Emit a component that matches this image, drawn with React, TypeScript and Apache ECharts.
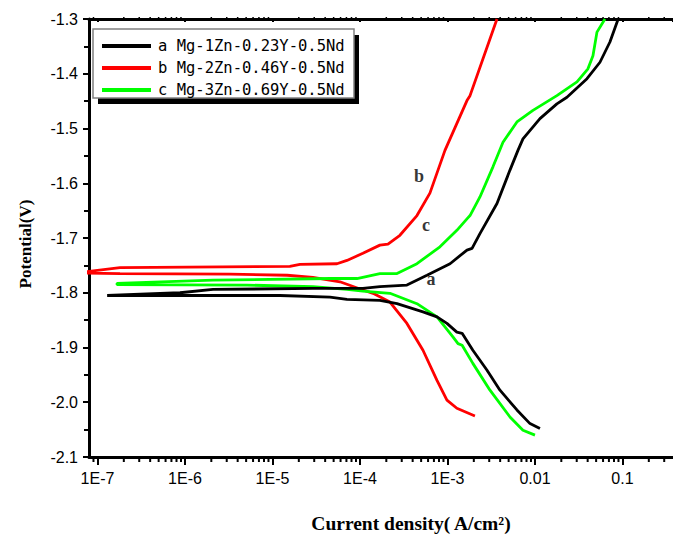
import React, { useEffect, useRef } from "react";
import * as echarts from "echarts";

// Curve a: Mg-1Zn-0.23Y-0.5Nd (black) — cathodic branch (high i -> Ecorr) then anodic branch
const aCathodic: [number, number][] = [
  [1.14e-2, -2.048], [8.77e-3, -2.039], [6.22e-3, -2.014], [3.98e-3, -1.978], [2.82e-3, -1.941],
  [1.95e-3, -1.905], [1.47e-3, -1.874], [1.28e-3, -1.872], [9.86e-4, -1.856], [7.59e-4, -1.844],
  [5.25e-4, -1.835], [2.65e-4, -1.82], [1.69e-4, -1.814], [7.1e-5, -1.812], [4.54e-5, -1.808],
  [1.22e-5, -1.805], [1.29e-7, -1.805],
];
const aAnodic: [number, number][] = [
  [8.77e-7, -1.8], [2.09e-6, -1.794], [2.9e-5, -1.792], [1.08e-4, -1.792], [1.69e-4, -1.789],
  [3.44e-4, -1.786], [5.83e-4, -1.768], [1.07e-3, -1.747], [1.67e-3, -1.722], [1.91e-3, -1.719],
  [2.35e-3, -1.692], [3.68e-3, -1.637], [5.18e-3, -1.576], [6.39e-3, -1.54], [7.29e-3, -1.519],
  [1.14e-2, -1.482], [1.78e-2, -1.455], [2.32e-2, -1.443], [3.93e-2, -1.409], [5.53e-2, -1.379],
  [7.19e-2, -1.342], [8.89e-2, -1.301],
];

// Curve b: Mg-2Zn-0.46Y-0.5Nd (red)
const bCathodic: [number, number][] = [
  [2.06e-3, -2.025], [1.28e-3, -2.011], [9.86e-4, -1.996], [7.59e-4, -1.96], [5.25e-4, -1.905],
  [3.44e-4, -1.856], [2.2e-4, -1.817], [1.41e-4, -1.801], [1.08e-4, -1.795], [5.9e-5, -1.78],
  [2.9e-5, -1.772], [1.47e-5, -1.768], [3.27e-6, -1.766], [1.81e-7, -1.765], [7.0e-8, -1.764],
];
const bAnodic: [number, number][] = [
  [7.0e-8, -1.762], [1.81e-7, -1.754], [1.58e-5, -1.752], [2.06e-5, -1.748], [5.46e-5, -1.747],
  [7.1e-5, -1.741], [1.08e-4, -1.728], [1.69e-4, -1.713], [2.09e-4, -1.711], [2.86e-4, -1.695],
  [4.48e-4, -1.659], [6.3e-4, -1.618], [9.36e-4, -1.54], [1.67e-3, -1.449], [1.81e-3, -1.44],
  [3.68e-3, -1.3],
];

// Curve c: Mg-3Zn-0.69Y-0.5Nd (green)
const cCathodic: [number, number][] = [
  [1.0e-2, -2.06], [7.29e-3, -2.051], [5.18e-3, -2.027], [3.06e-3, -1.978], [1.95e-3, -1.929],
  [1.47e-3, -1.896], [1.32e-3, -1.893], [1.16e-3, -1.881], [7.59e-4, -1.844], [4.48e-4, -1.82],
  [2.2e-4, -1.801], [1.08e-4, -1.797], [7.1e-5, -1.794], [2.9e-5, -1.789], [5.12e-6, -1.786],
  [1.67e-7, -1.785],
];
const cAnodic: [number, number][] = [
  [1.67e-7, -1.783], [2.09e-6, -1.777], [4.54e-5, -1.774], [9.24e-5, -1.774], [1.69e-4, -1.765],
  [2.65e-4, -1.765], [4.48e-4, -1.747], [8.2e-4, -1.716], [1.28e-3, -1.686], [1.67e-3, -1.665],
  [1.81e-3, -1.659], [2.35e-3, -1.625], [3.31e-3, -1.57], [4.31e-3, -1.525], [6.22e-3, -1.488],
  [9.48e-3, -1.467], [1.78e-2, -1.44], [3.02e-2, -1.415], [4.03e-2, -1.391], [4.6e-2, -1.367],
  [5.11e-2, -1.324], [6.31e-2, -1.3],
];

const seriesNames = ["a Mg-1Zn-0.23Y-0.5Nd", "b Mg-2Zn-0.46Y-0.5Nd", "c Mg-3Zn-0.69Y-0.5Nd"];
const seriesColors = ["#000000", "#ff0000", "#00ff00"];

// Curve annotations (current density, potential, letter)
const curveLabels: [number, number, string][] = [
  [4.72e-4, -1.587, "b"],
  [5.68e-4, -1.677, "c"],
  [6.47e-4, -1.775, "a"],
];

const xMin = 8.0e-8;
const xMax = 0.378;
const yMin = -2.1;
const yMax = -1.3;
const yInterval = 0.1;

// minor tick positions on the log axis (2..9 x decade)
const minorMantissas = [2, 3, 4, 5, 6, 7, 8, 9];
const decadeExponents = [-8, -7, -6, -5, -4, -3, -2, -1];

const yTitle = "Potential(V)";
const xTitle = "Current density( A/cm²)";

export default function App() {
  const ref = useRef<HTMLDivElement>(null);
  useEffect(() => {
    document.body.style.margin = "0";
    if (!ref.current) return;
    const chart = echarts.init(ref.current, null, { renderer: "svg" });

    const minorTicks: number[][] = [];
    decadeExponents.forEach((e) => {
      minorMantissas.forEach((m) => {
        const v = m * Math.pow(10, e);
        if (v > xMin && v < xMax) minorTicks.push([v, yMin]);
      });
    });

    const build = (cat: [number, number][], an: [number, number][]) => [...cat, ...an];
    const curves = [build(aCathodic, aAnodic), build(bCathodic, bAnodic), build(cCathodic, cAnodic)];

    const fmtX = (v: number) => {
      const e = Math.round(Math.log10(v));
      if (e <= -3) return "1E" + e;
      if (e === -2) return "0.01";
      if (e === -1) return "0.1";
      return String(Math.pow(10, e));
    };

    const option: any = {
      animation: false,
      backgroundColor: "#ffffff",
      grid: { left: 89, right: 0, top: 19, bottom: 78, containLabel: false },
      xAxis: [
        {
          type: "log",
          logBase: 10,
          min: xMin,
          max: xMax,
          position: "bottom",
          axisLine: { show: true, lineStyle: { color: "#000", width: 3 } },
          axisTick: { show: true, length: 8, lineStyle: { color: "#000", width: 2 } },
          minorTick: { show: false },
          splitLine: { show: false },
          axisLabel: {
            showMinLabel: false,
            showMaxLabel: false,
            margin: 13,
            color: "#000",
            fontSize: 16,
            fontFamily: "Liberation Sans",
            formatter: fmtX,
          },
        },
        {
          type: "log",
          logBase: 10,
          min: xMin,
          max: xMax,
          position: "top",
          axisLine: { show: true, lineStyle: { color: "#000", width: 3 } },
          axisTick: { show: true, inside: true, length: 3, lineStyle: { color: "#000", width: 2 } },
          axisLabel: { show: false },
          splitLine: { show: false },
        },
      ],
      yAxis: {
        type: "value",
        min: yMin,
        max: yMax,
        interval: yInterval,
        axisLine: { show: true, lineStyle: { color: "#000", width: 3 } },
        axisTick: { show: true, length: 6, lineStyle: { color: "#000", width: 2 } },
        minorTick: { show: true, splitNumber: 2, length: 5, lineStyle: { color: "#000", width: 2 } },
        splitLine: { show: false },
        axisLabel: {
          margin: 11,
          color: "#000",
          fontSize: 16,
          fontFamily: "Liberation Sans",
          formatter: (v: number) => v.toFixed(1),
        },
      },
      legend: {
        show: true,
        orient: "vertical",
        left: 102,
        top: 37,
        z: 10,
        icon: "rect",
        itemWidth: 49,
        itemHeight: 4,
        itemGap: 4,
        padding: 0,
        data: seriesNames,
        textStyle: {
          fontFamily: "DejaVu Sans Mono",
          fontSize: 15.5,
          lineHeight: 18,
          color: "#000",
          padding: [0, 0, 0, 2],
        },
      },
      graphic: [
        { type: "rect", z: 1, shape: { x: 98, y: 35, width: 261, height: 69 }, style: { fill: "#000" } },
        {
          type: "rect",
          z: 2,
          shape: { x: 93, y: 29, width: 261, height: 69 },
          style: { fill: "#fff", stroke: "#808080", lineWidth: 1.5 },
        },
        {
          type: "text",
          x: 25,
          y: 244,
          rotation: Math.PI / 2,
          style: {
            text: yTitle,
            fontFamily: "Liberation Serif",
            fontWeight: "bold",
            fontSize: 17,
            fill: "#000",
            textAlign: "center",
            textVerticalAlign: "middle",
          },
        },
        {
          type: "text",
          x: 411,
          y: 523,
          style: {
            text: xTitle,
            fontFamily: "Liberation Serif",
            fontWeight: "bold",
            fontSize: 19.5,
            fill: "#000",
            textAlign: "center",
            textVerticalAlign: "middle",
          },
        },
      ],
      series: [
        ...curves.map((d, i) => ({
          name: seriesNames[i],
          type: "line",
          data: d,
          showSymbol: false,
          symbol: "none",
          clip: true,
          lineStyle: { color: seriesColors[i], width: 2.8 },
          itemStyle: { color: seriesColors[i] },
          z: i === 0 ? 5 : i === 2 ? 4 : 3,
        })),
        {
          name: "labels",
          type: "scatter",
          data: curveLabels.map((c) => ({ value: [c[0], c[1]], name: c[2] })),
          symbolSize: 1,
          itemStyle: { color: "rgba(0,0,0,0)" },
          label: {
            show: true,
            position: "inside",
            formatter: (p: any) => p.name,
            fontFamily: "Liberation Serif",
            fontWeight: "bold",
            fontSize: 18,
            color: "#000",
          },
          silent: true,
        },
        {
          name: "minorTicks",
          type: "custom",
          data: minorTicks,
          silent: true,
          clip: false,
          renderItem: (params: any, api: any) => {
            const xv = api.value(0);
            const pb = api.coord([xv, yMin]);
            const pt = api.coord([xv, yMax]);
            return {
              type: "group",
              children: [
                {
                  type: "line",
                  shape: { x1: pb[0], y1: pb[1], x2: pb[0], y2: pb[1] + 5 },
                  style: { stroke: "#000", lineWidth: 2 },
                },
                {
                  type: "line",
                  shape: { x1: pt[0], y1: pt[1] - 2, x2: pt[0], y2: pt[1] + 2 },
                  style: { stroke: "#000", lineWidth: 1.5 },
                },
              ],
            };
          },
        },
      ],
    };
    chart.setOption(option);
    return () => chart.dispose();
  }, []);
  return <div ref={ref} style={{ width: 673, height: 535 }} />;
}
